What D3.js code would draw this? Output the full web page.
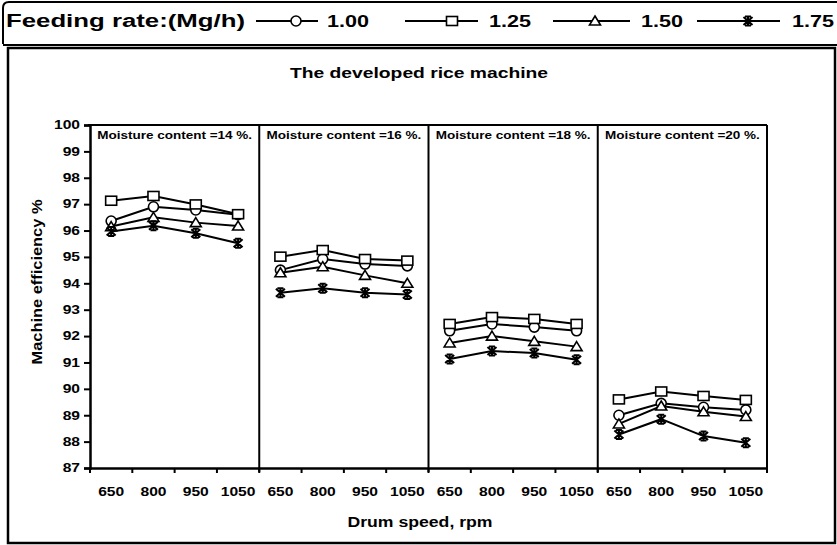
<!DOCTYPE html>
<html><head><meta charset="utf-8">
<script src="https://cdn.jsdelivr.net/npm/d3@7"></script>
<style>body{margin:0;background:#fff}svg{display:block}text{font-family:"Liberation Sans",Arial,sans-serif;font-weight:bold;fill:#000}</style>
</head><body><svg id="c" width="837" height="545"></svg>
<script>
// ---- data ----
const rates = ["1.00", "1.25", "1.50", "1.75"];
const moisture = ["14", "16", "18", "20"];
const speeds = ["650", "800", "950", "1050"];
const yTicks = [87, 88, 89, 90, 91, 92, 93, 94, 95, 96, 97, 98, 99, 100];
// values per feeding rate: 4 moisture panels x 4 drum speeds
const eff100 = [96.36, 96.9, 96.78, 96.6, 94.5, 94.92, 94.73, 94.66, 92.2, 92.46, 92.34, 92.2, 89.0, 89.45, 89.3, 89.2];
const eff125 = [97.13, 97.31, 96.99, 96.62, 95.01, 95.26, 94.92, 94.86, 92.46, 92.72, 92.65, 92.46, 89.6, 89.9, 89.73, 89.58];
const eff150 = [96.15, 96.5, 96.3, 96.17, 94.4, 94.63, 94.3, 94.0, 91.74, 92.0, 91.8, 91.6, 88.67, 89.35, 89.13, 88.95];
const eff175 = [95.96, 96.18, 95.9, 95.52, 93.64, 93.81, 93.64, 93.58, 91.13, 91.43, 91.36, 91.1, 88.27, 88.85, 88.21, 87.96];
const seriesVals = [eff100, eff125, eff150, eff175];
const markers = ["circle", "square", "triangle", "star"];

const svg = d3.select("#c");
const L = 90, R = 767, T = 125, B = 468;
const cats = moisture.flatMap(m => speeds.map(s => m + "|" + s));
const x = d3.scaleBand().domain(cats).range([L, R]);
const y = d3.scaleLinear().domain([87, 100]).range([B, T]);
const bw = x.bandwidth();

function fit(sel, w) {
  sel.each(function () {
    const tw = typeof w === "function" ? w(this) : w;
    this.setAttribute("textLength", tw);
    this.setAttribute("lengthAdjust", "spacingAndGlyphs");
  });
}
function stretch(sel, k) { fit(sel, el => el.getComputedTextLength() * k); }

// frames
svg.append("path").attr("d", "M3,44 L3,8 Q3,2 9,2 L840,2").attr("fill", "none").attr("stroke", "#000").attr("stroke-width", 2);
svg.append("line").attr("x1", 3).attr("x2", 840).attr("y1", 45).attr("y2", 45).attr("stroke", "#000").attr("stroke-width", 2);
svg.append("rect").attr("x", 8).attr("y", 48).attr("width", 827).attr("height", 495).attr("fill", "none").attr("stroke", "#000").attr("stroke-width", 2.5);

// legend
const lg = svg.append("g");
fit(lg.append("text").attr("x", 6).attr("y", 27).style("font-size", "18px").text("Feeding rate:(Mg/h)"), 239);
const legItems = [
  { line: [256, 318], m: 296, t: 327 },
  { line: [405, 478], m: 452, t: 489 },
  { line: [553, 630], m: 595, t: 641 },
  { line: [697, 780], m: 748, t: 792 }
];
function drawMarker(g, type, cx, cy) {
  if (type === "circle") g.append("circle").attr("cx", cx).attr("cy", cy).attr("r", 5).attr("fill", "#fff").attr("stroke", "#000").attr("stroke-width", 1.6);
  else if (type === "square") g.append("rect").attr("x", cx - 5.5).attr("y", cy - 4.5).attr("width", 11).attr("height", 9).attr("fill", "#fff").attr("stroke", "#000").attr("stroke-width", 1.6);
  else if (type === "triangle") g.append("path").attr("d", `M${cx},${cy - 5} L${cx + 5.5},${cy + 4} L${cx - 5.5},${cy + 4} Z`).attr("fill", "#fff").attr("stroke", "#000").attr("stroke-width", 1.6);
  else {
    g.append("path").attr("d", `M${cx - 4.5},${cy - 4} L${cx + 4.5},${cy + 4} M${cx + 4.5},${cy - 4} L${cx - 4.5},${cy + 4} M${cx},${cy - 5} L${cx},${cy + 5} M${cx - 3},${cy - 4.5} L${cx + 3},${cy - 4.5} M${cx - 3},${cy + 4.5} L${cx + 3},${cy + 4.5}`).attr("fill", "none").attr("stroke", "#000").attr("stroke-width", 2);
  }
}
rates.forEach((r, i) => {
  const it = legItems[i];
  lg.append("line").attr("x1", it.line[0]).attr("x2", it.line[1]).attr("y1", 21).attr("y2", 21).attr("stroke", "#000").attr("stroke-width", 2);
  drawMarker(lg, markers[i], it.m, 21);
  fit(lg.append("text").attr("x", it.t).attr("y", 27).style("font-size", "17px").text(r), 42);
});

// title
fit(svg.append("text").attr("x", 419).attr("y", 78).attr("text-anchor", "middle").style("font-size", "15px").text("The developed rice machine"), 258);

// panels
moisture.forEach((m, pi) => {
  const left = x(m + "|650"), right = x(m + "|1050") + bw;
  fit(svg.append("text").attr("x", (left + right) / 2).attr("y", 139).attr("text-anchor", "middle").style("font-size", "11px").text("Moisture content =" + m + " %."), 155);
  svg.append("line").attr("x1", right).attr("x2", right).attr("y1", T).attr("y2", B + 4).attr("stroke", "#000").attr("stroke-width", 2);
});
svg.append("line").attr("x1", L - 2).attr("x2", R).attr("y1", T).attr("y2", T).attr("stroke", "#000").attr("stroke-width", 2);

// y axis
const ya = svg.append("g").attr("transform", `translate(${L},0)`).call(d3.axisLeft(y).tickValues(yTicks).tickSize(6).tickPadding(4).tickFormat(d3.format("d")));
ya.select(".domain").attr("stroke-width", 2.5);
ya.selectAll(".tick line").attr("stroke-width", 2);
ya.selectAll("text").style("font-size", "12px").style("font-family", "Liberation Sans, Arial, sans-serif").style("font-weight", "bold");
stretch(ya.selectAll("text"), 1.3);

// x axis
const xa = svg.append("g").attr("transform", `translate(0,${B})`).call(d3.axisBottom(x).tickSize(0).tickPadding(19).tickFormat(d => d.split("|")[1]));
xa.select(".domain").attr("stroke-width", 2.5);
xa.selectAll("text").style("font-size", "12px").style("font-family", "Liberation Sans, Arial, sans-serif").style("font-weight", "bold");
stretch(xa.selectAll("text"), 1.3);
const bounds = cats.map(c => x(c)).concat([x(cats[cats.length - 1]) + bw]);
svg.append("g").selectAll("line").data(bounds).join("line")
  .attr("x1", d => d).attr("x2", d => d).attr("y1", B).attr("y2", B + 5).attr("stroke", "#000").attr("stroke-width", 2);

// axis titles
fit(svg.append("text").attr("x", 420).attr("y", 527).attr("text-anchor", "middle").style("font-size", "14px").text("Drum speed, rpm"), 145);
fit(svg.append("text").attr("transform", "translate(42,282) rotate(-90)").attr("text-anchor", "middle").style("font-size", "15px").text("Machine efficiency %"), 165);

// series
const line = d3.line().x(d => x(d.c) + bw / 2).y(d => y(d.v));
const plot = svg.append("g");
seriesVals.forEach((vals, si) => {
  const g = plot.append("g");
  moisture.forEach((m, pi) => {
    const pts = speeds.map((s, k) => ({ c: m + "|" + s, v: vals[pi * 4 + k] }));
    g.append("path").attr("d", line(pts)).attr("fill", "none").attr("stroke", "#000").attr("stroke-width", 2);
    pts.forEach(p => drawMarker(g, markers[si], x(p.c) + bw / 2, y(p.v)));
  });
});
</script></body></html>
